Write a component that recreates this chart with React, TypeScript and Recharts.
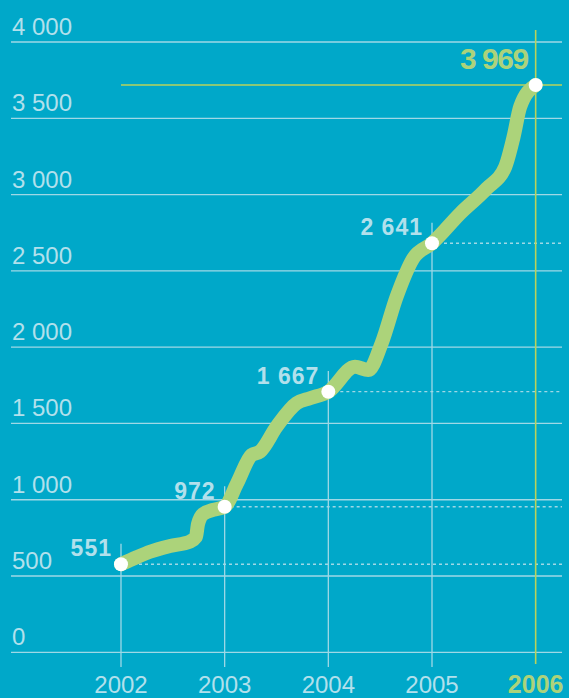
import React from "react";
import {
  ComposedChart,
  Line,
  Scatter,
  XAxis,
  YAxis,
  CartesianGrid,
  ReferenceLine,
} from "recharts";

// ---- data ----
const years = [2002, 2003, 2004, 2005, 2006];
const yearLabels = ["551", "972", "1 667", "2 641", "3 969"];
// where the year dots sit on the drawing
const dotValues = [577, 954, 1708, 2681, 3718];

const lineYears = [
  2002.0, 2002.151, 2002.28, 2002.473, 2002.665, 2002.723, 2002.743, 2002.791,
  2002.887, 2003.0, 2003.12, 2003.26, 2003.34, 2003.501, 2003.694, 2003.823,
  2004.0, 2004.257, 2004.385, 2004.514, 2004.659, 2004.819, 2005.0, 2005.273,
  2005.53, 2005.707, 2005.787, 2005.851, 2006.0,
];
const lineValues = [
  577, 623, 659, 697, 726, 756, 841, 906, 933, 954, 1108, 1293, 1315, 1479,
  1632, 1665, 1708, 1872, 1850, 2025, 2331, 2582, 2681, 2877, 3041, 3183, 3379,
  3576, 3718,
];

const yTicks = [0, 500, 1000, 1500, 2000, 2500, 3000, 3500, 4000];
const yTickLabels = ["0", "500", "1 000", "1 500", "2 000", "2 500", "3 000", "3 500", "4 000"];

// ---- styles ----
const BG = "#00a8c9";
const GRID = "#9fd8e6";
const TEXT = "#b2e0ec";
const GREEN = "#acd37a";
const HILITE = "#b9d35a";
const FONT = "'Liberation Sans', Arial, Helvetica, sans-serif";

const X_MIN = 2000.939;
const X_MAX = 2006.254;

const lineData = lineYears.map((x, i) => ({ x, v: lineValues[i] }));
const dotData = years.map((x, i) => ({ x, v: dotValues[i], label: yearLabels[i], last: i === years.length - 1 }));

const YTick = (props: any) => {
  const { y, payload } = props;
  const idx = yTicks.indexOf(payload.value);
  return (
    <text x={12} y={y - 7} fill={TEXT} fontSize={24} fontFamily={FONT}>
      {yTickLabels[idx]}
    </text>
  );
};

const XTick = (props: any) => {
  const { x, payload } = props;
  const last = payload.value === years[years.length - 1];
  return (
    <text
      x={x}
      y={693}
      textAnchor="middle"
      fill={last ? GREEN : TEXT}
      fontSize={last ? 25 : 24}
      fontWeight={last ? "bold" : "normal"}
      fontFamily={FONT}
    >
      {String(payload.value)}
    </text>
  );
};

const DotShape = (props: any) => {
  const { cx, cy, payload } = props;
  const last = payload.last;
  return (
    <g>
      <circle cx={cx} cy={cy} r={7} fill="#ffffff" />
      <text
        x={last ? cx - 8 : cx - 9}
        y={last ? cy - 16 : cy - 8}
        textAnchor="end"
        fill={last ? GREEN : TEXT}
        fontSize={last ? 30 : 23}
        fontWeight="bold"
        letterSpacing={last ? -1.5 : 1}
        fontFamily={FONT}
      >
        {payload.label}
      </text>
    </g>
  );
};

export default function App() {
  return (
    <div
      style={{
        position: "absolute",
        left: 0,
        top: 0,
        width: 569,
        height: 698,
        background: BG,
        overflow: "hidden",
      }}
    >
      <ComposedChart
        width={569}
        height={698}
        margin={{ top: 42, right: 7, bottom: 15.7, left: 10 }}
      >
        <CartesianGrid horizontal vertical={false} stroke={GRID} strokeWidth={1.3} />
        <XAxis
          type="number"
          dataKey="x"
          domain={[X_MIN, X_MAX]}
          ticks={years}
          tick={<XTick />}
          axisLine={false}
          tickLine={false}
          height={30}
          allowDataOverflow
        />
        <YAxis
          type="number"
          dataKey="v"
          domain={[0, 4000]}
          ticks={yTicks}
          tick={<YTick />}
          axisLine={false}
          tickLine={false}
          width={1}
          allowDataOverflow
        />
        {years.map((yr, i) =>
          i < years.length - 1 ? (
            <ReferenceLine
              key={"d" + yr}
              segment={[
                { x: yr, y: dotValues[i] },
                { x: X_MAX, y: dotValues[i] },
              ]}
              stroke={GRID}
              strokeWidth={1.3}
              strokeDasharray="3 3"
              ifOverflow="visible"
            />
          ) : null
        )}
        <ReferenceLine
          segment={[
            { x: years[0], y: dotValues[dotValues.length - 1] },
            { x: X_MAX, y: dotValues[dotValues.length - 1] },
          ]}
          stroke={HILITE}
          strokeWidth={1.5}
          ifOverflow="visible"
        />
        {years.map((yr, i) => {
          const last = i === years.length - 1;
          return (
            <ReferenceLine
              key={"v" + yr}
              segment={[
                { x: yr, y: last ? -77 : -96 },
                { x: yr, y: last ? 4079 : dotValues[i] + 135 },
              ]}
              stroke={last ? HILITE : GRID}
              strokeWidth={last ? 1.6 : 1.3}
              ifOverflow="visible"
            />
          );
        })}
        <Line
          data={lineData}
          dataKey="v"
          type="monotone"
          stroke={GREEN}
          strokeWidth={14}
          strokeLinecap="round"
          strokeLinejoin="round"
          dot={false}
          activeDot={false}
          isAnimationActive={false}
        />
        <Scatter
          data={dotData}
          dataKey="v"
          shape={<DotShape />}
          isAnimationActive={false}
        />
      </ComposedChart>
    </div>
  );
}
